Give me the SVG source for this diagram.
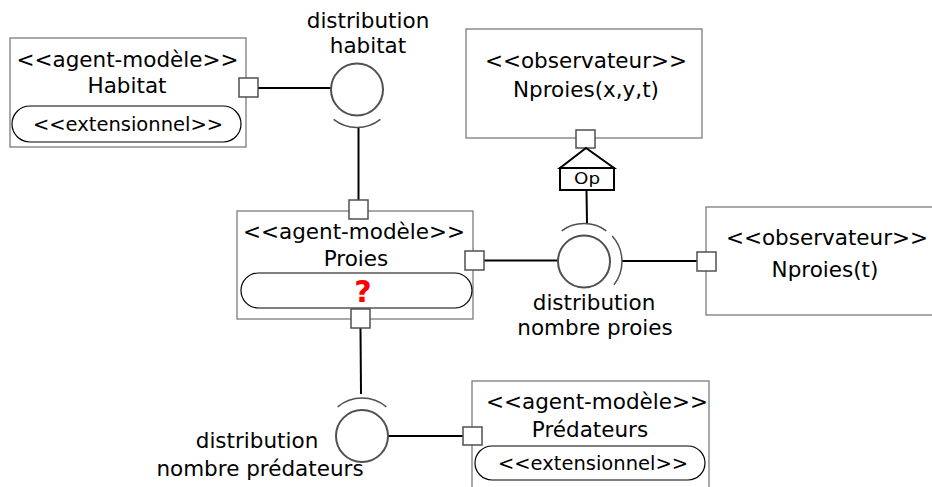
<svg xmlns="http://www.w3.org/2000/svg" width="932" height="487" viewBox="0 0 932 487">
<style>
.box{fill:#fff;stroke:#707070;stroke-width:1.2}
.pill{fill:#fff;stroke:#000;stroke-width:1.2}
.port{fill:#fff;stroke:#505050;stroke-width:1.5}
.ball{fill:#fff;stroke:#505050;stroke-width:2}
.sock{fill:none;stroke:#505050;stroke-width:1.5}
.conn{fill:none;stroke:#000;stroke-width:2}
text{font-family:"DejaVu Sans","Liberation Sans",sans-serif;font-size:21.5px;fill:#000;text-anchor:middle}
.ext{font-size:19.5px}
.q{font-weight:bold;font-size:30px;fill:#f00}
.op{font-size:15px}
</style>
<rect width="932" height="487" fill="#fff"/>
<g id="connectors">
<line class="conn" x1="258" y1="88" x2="331" y2="88"/>
<line class="conn" x1="358.5" y1="127" x2="358.5" y2="200"/>
<line class="conn" x1="484" y1="260.5" x2="558" y2="260.5"/>
<line class="conn" x1="622" y1="261" x2="697" y2="261"/>
<line class="conn" x1="586.5" y1="190" x2="587" y2="223"/>
<line class="conn" x1="360.5" y1="328" x2="361" y2="394"/>
<line class="conn" x1="388" y1="436" x2="463" y2="436"/>
</g>
<g id="habitat">
<rect class="box" x="10" y="38" width="236" height="109"/>
<text x="127.5" y="67">&lt;&lt;agent-modèle&gt;&gt;</text>
<text x="127" y="93">Habitat</text>
<rect class="pill" x="12" y="106" width="229" height="36" rx="18"/>
<text class="ext" x="128" y="131">&lt;&lt;extensionnel&gt;&gt;</text>
<rect class="port" x="239" y="78" width="19" height="19"/>
</g>
<g id="proies">
<rect class="box" x="237" y="211" width="236" height="108"/>
<text x="354" y="239">&lt;&lt;agent-modèle&gt;&gt;</text>
<text x="356" y="266">Proies</text>
<rect class="pill" x="241" y="273" width="231" height="35" rx="17.5"/>
<text class="q" x="363" y="302">?</text>
<rect class="port" x="349" y="200" width="19" height="19"/>
<rect class="port" x="465" y="251" width="19" height="19"/>
<rect class="port" x="351" y="309" width="19" height="19"/>
</g>
<g id="observateur-xyt">
<rect class="box" x="466" y="29" width="236" height="109"/>
<text x="586" y="68">&lt;&lt;observateur&gt;&gt;</text>
<text x="586" y="97">Nproies(x,y,t)</text>
<rect class="port" x="576" y="130" width="19" height="18"/>
<path d="M586,148 L560,168 L614,168 Z" fill="#fff" stroke="#000" stroke-width="2"/>
<rect x="560" y="168" width="54" height="22" fill="#fff" stroke="#000" stroke-width="2"/>
<text class="op" x="587" y="184" textLength="26" lengthAdjust="spacingAndGlyphs">Op</text>
</g>
<g id="observateur-t">
<rect class="box" x="706" y="207" width="230" height="108"/>
<text x="827" y="245">&lt;&lt;observateur&gt;&gt;</text>
<text x="825" y="277">Nproies(t)</text>
<rect class="port" x="697" y="252" width="19" height="19"/>
</g>
<g id="predateurs">
<rect class="box" x="472" y="381" width="237" height="120"/>
<text x="597" y="409">&lt;&lt;agent-modèle&gt;&gt;</text>
<text x="590" y="437">Prédateurs</text>
<rect class="pill" x="475" y="446" width="230" height="34" rx="17"/>
<text class="ext" x="593" y="470">&lt;&lt;extensionnel&gt;&gt;</text>
<rect class="port" x="463" y="427" width="19" height="18"/>
</g>
<g id="distribution-habitat">
<circle class="ball" cx="357" cy="89.5" r="26"/>
<path class="sock" d="M333.6,119.4 A38,38 0 0 0 380.4,119.4"/>
<text x="368" y="28">distribution</text>
<text x="368" y="53">habitat</text>
</g>
<g id="distribution-nombre-proies">
<circle class="ball" cx="584" cy="261.5" r="26"/>
<path class="sock" d="M561.7,230.8 A38,38 0 0 1 606.3,230.8"/>
<path class="sock" d="M612.2,236.1 A38,38 0 0 1 613.9,284.9"/>
<text x="594" y="310">distribution</text>
<text x="595" y="335">nombre proies</text>
</g>
<g id="distribution-nombre-predateurs">
<circle class="ball" cx="362" cy="436" r="26"/>
<path class="sock" d="M337.6,406.9 A38,38 0 0 1 386.4,406.9"/>
<text x="257" y="448">distribution</text>
<text x="260" y="476">nombre prédateurs</text>
</g>
</svg>
